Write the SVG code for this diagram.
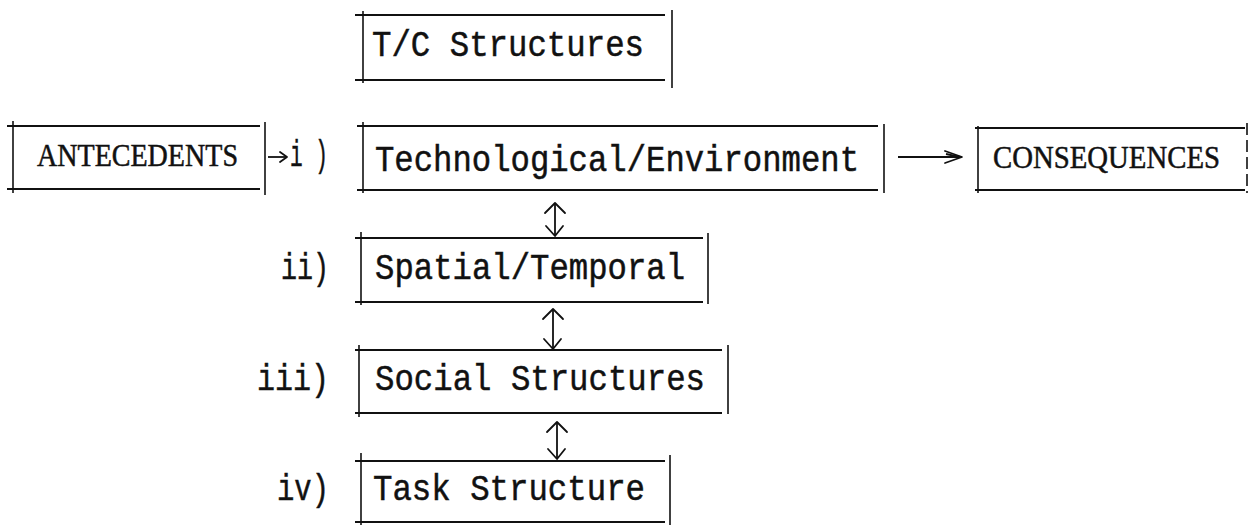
<svg xmlns="http://www.w3.org/2000/svg" width="1250" height="525" viewBox="0 0 1250 525">
<style>
  .h { stroke: #111; stroke-width: 2.2; fill: none; }
  .v { stroke: #111; stroke-width: 1.6; fill: none; }
  .mono { font-family: "Liberation Mono", "Courier New", monospace; font-size: 36px; fill: #111; stroke: #111; stroke-width: 0.5; }
  .serif { font-family: "Liberation Serif", "Times New Roman", serif; font-size: 31px; fill: #111; stroke: #111; stroke-width: 0.5; }
  .conn { stroke: #111; stroke-width: 1.8; fill: none; }
  .head { stroke: #111; stroke-width: 1.8; fill: none; stroke-linecap: round; stroke-linejoin: round; }
</style>
<rect width="1250" height="525" fill="#fff"/>

<g id="tc-structures">
  <line class="h" x1="355" y1="15" x2="665" y2="15"/>
  <line class="h" x1="355" y1="80" x2="665" y2="80"/>
  <line class="v" x1="363" y1="11" x2="363" y2="83"/>
  <line class="v" x1="672" y1="10" x2="672" y2="88"/>
  <text class="mono" x="372" y="56" textLength="272" lengthAdjust="spacingAndGlyphs">T/C Structures</text>
</g>

<g id="antecedents">
  <line class="h" x1="7" y1="126" x2="260" y2="126"/>
  <line class="h" x1="7" y1="189" x2="260" y2="189"/>
  <line class="v" x1="13" y1="121" x2="13" y2="193"/>
  <line class="v" x1="265" y1="122" x2="265" y2="195"/>
  <text class="serif" x="37" y="166" textLength="201" lengthAdjust="spacingAndGlyphs">ANTECEDENTS</text>
</g>

<g id="label-i">
  <text class="mono" x="290" y="166" textLength="38" lengthAdjust="spacingAndGlyphs">i )</text>
</g>

<g id="technological-environment">
  <line class="h" x1="357" y1="126" x2="878" y2="126"/>
  <line class="h" x1="357" y1="190" x2="878" y2="190"/>
  <line class="v" x1="363" y1="122" x2="363" y2="193"/>
  <line class="v" x1="884" y1="124" x2="884" y2="193"/>
  <text class="mono" x="375" y="171" textLength="484" lengthAdjust="spacingAndGlyphs">Technological/Environment</text>
</g>

<g id="consequences">
  <line class="h" x1="975" y1="128" x2="1245" y2="128"/>
  <line class="h" x1="975" y1="190" x2="1245" y2="190"/>
  <line class="v" x1="978" y1="126" x2="978" y2="193"/>
  <line class="v" x1="1247" y1="123" x2="1247" y2="193" stroke-dasharray="12 5"/>
  <text class="serif" x="993" y="168" textLength="227" lengthAdjust="spacingAndGlyphs">CONSEQUENCES</text>
</g>

<g id="label-ii">
  <text class="mono" x="281" y="279" textLength="48" lengthAdjust="spacingAndGlyphs">ii)</text>
</g>

<g id="spatial-temporal">
  <line class="h" x1="355" y1="238" x2="703" y2="238"/>
  <line class="h" x1="355" y1="302" x2="703" y2="302"/>
  <line class="v" x1="361" y1="232" x2="361" y2="305"/>
  <line class="v" x1="708" y1="233" x2="708" y2="304"/>
  <text class="mono" x="375" y="279" textLength="310" lengthAdjust="spacingAndGlyphs">Spatial/Temporal</text>
</g>

<g id="label-iii">
  <text class="mono" x="257" y="390" textLength="72" lengthAdjust="spacingAndGlyphs">iii)</text>
</g>

<g id="social-structures">
  <line class="h" x1="355" y1="350" x2="722" y2="350"/>
  <line class="h" x1="355" y1="413" x2="722" y2="413"/>
  <line class="v" x1="359" y1="345" x2="359" y2="417"/>
  <line class="v" x1="728" y1="345" x2="728" y2="414"/>
  <text class="mono" x="375" y="390" textLength="330" lengthAdjust="spacingAndGlyphs">Social Structures</text>
</g>

<g id="label-iv">
  <text class="mono" x="277" y="500" textLength="52" lengthAdjust="spacingAndGlyphs">iv)</text>
</g>

<g id="task-structure">
  <line class="h" x1="355" y1="461" x2="665" y2="461"/>
  <line class="h" x1="355" y1="522" x2="665" y2="522"/>
  <line class="v" x1="361" y1="453" x2="361" y2="525"/>
  <line class="v" x1="670" y1="455" x2="670" y2="525"/>
  <text class="mono" x="373" y="500" textLength="272" lengthAdjust="spacingAndGlyphs">Task Structure</text>
</g>

<g id="connectors">
  <!-- antecedents to i -->
  <line class="conn" x1="268" y1="157" x2="286" y2="157"/>
  <polyline class="head" points="280,152 287,157 280,162"/>
  <!-- technological to consequences -->
  <line class="conn" x1="898" y1="157" x2="962" y2="157"/>
  <polyline class="head" points="945,151 962,157 945,163"/>
  <line class="conn" x1="946" y1="154" x2="960" y2="157"/>
  <!-- i <-> ii -->
  <line class="conn" x1="555" y1="203" x2="555" y2="236"/>
  <polyline class="head" points="545,213 555,203 565,213"/>
  <polyline class="head" points="546,226 555,236 563,226"/>
  <!-- ii <-> iii -->
  <line class="conn" x1="553" y1="309" x2="553" y2="349"/>
  <polyline class="head" points="543,319 553,309 563,319"/>
  <polyline class="head" points="544,339 553,349 561,339"/>
  <!-- iii <-> iv -->
  <line class="conn" x1="557" y1="422" x2="557" y2="459"/>
  <polyline class="head" points="547,432 557,422 567,432"/>
  <polyline class="head" points="548,449 557,459 565,449"/>
</g>
</svg>
